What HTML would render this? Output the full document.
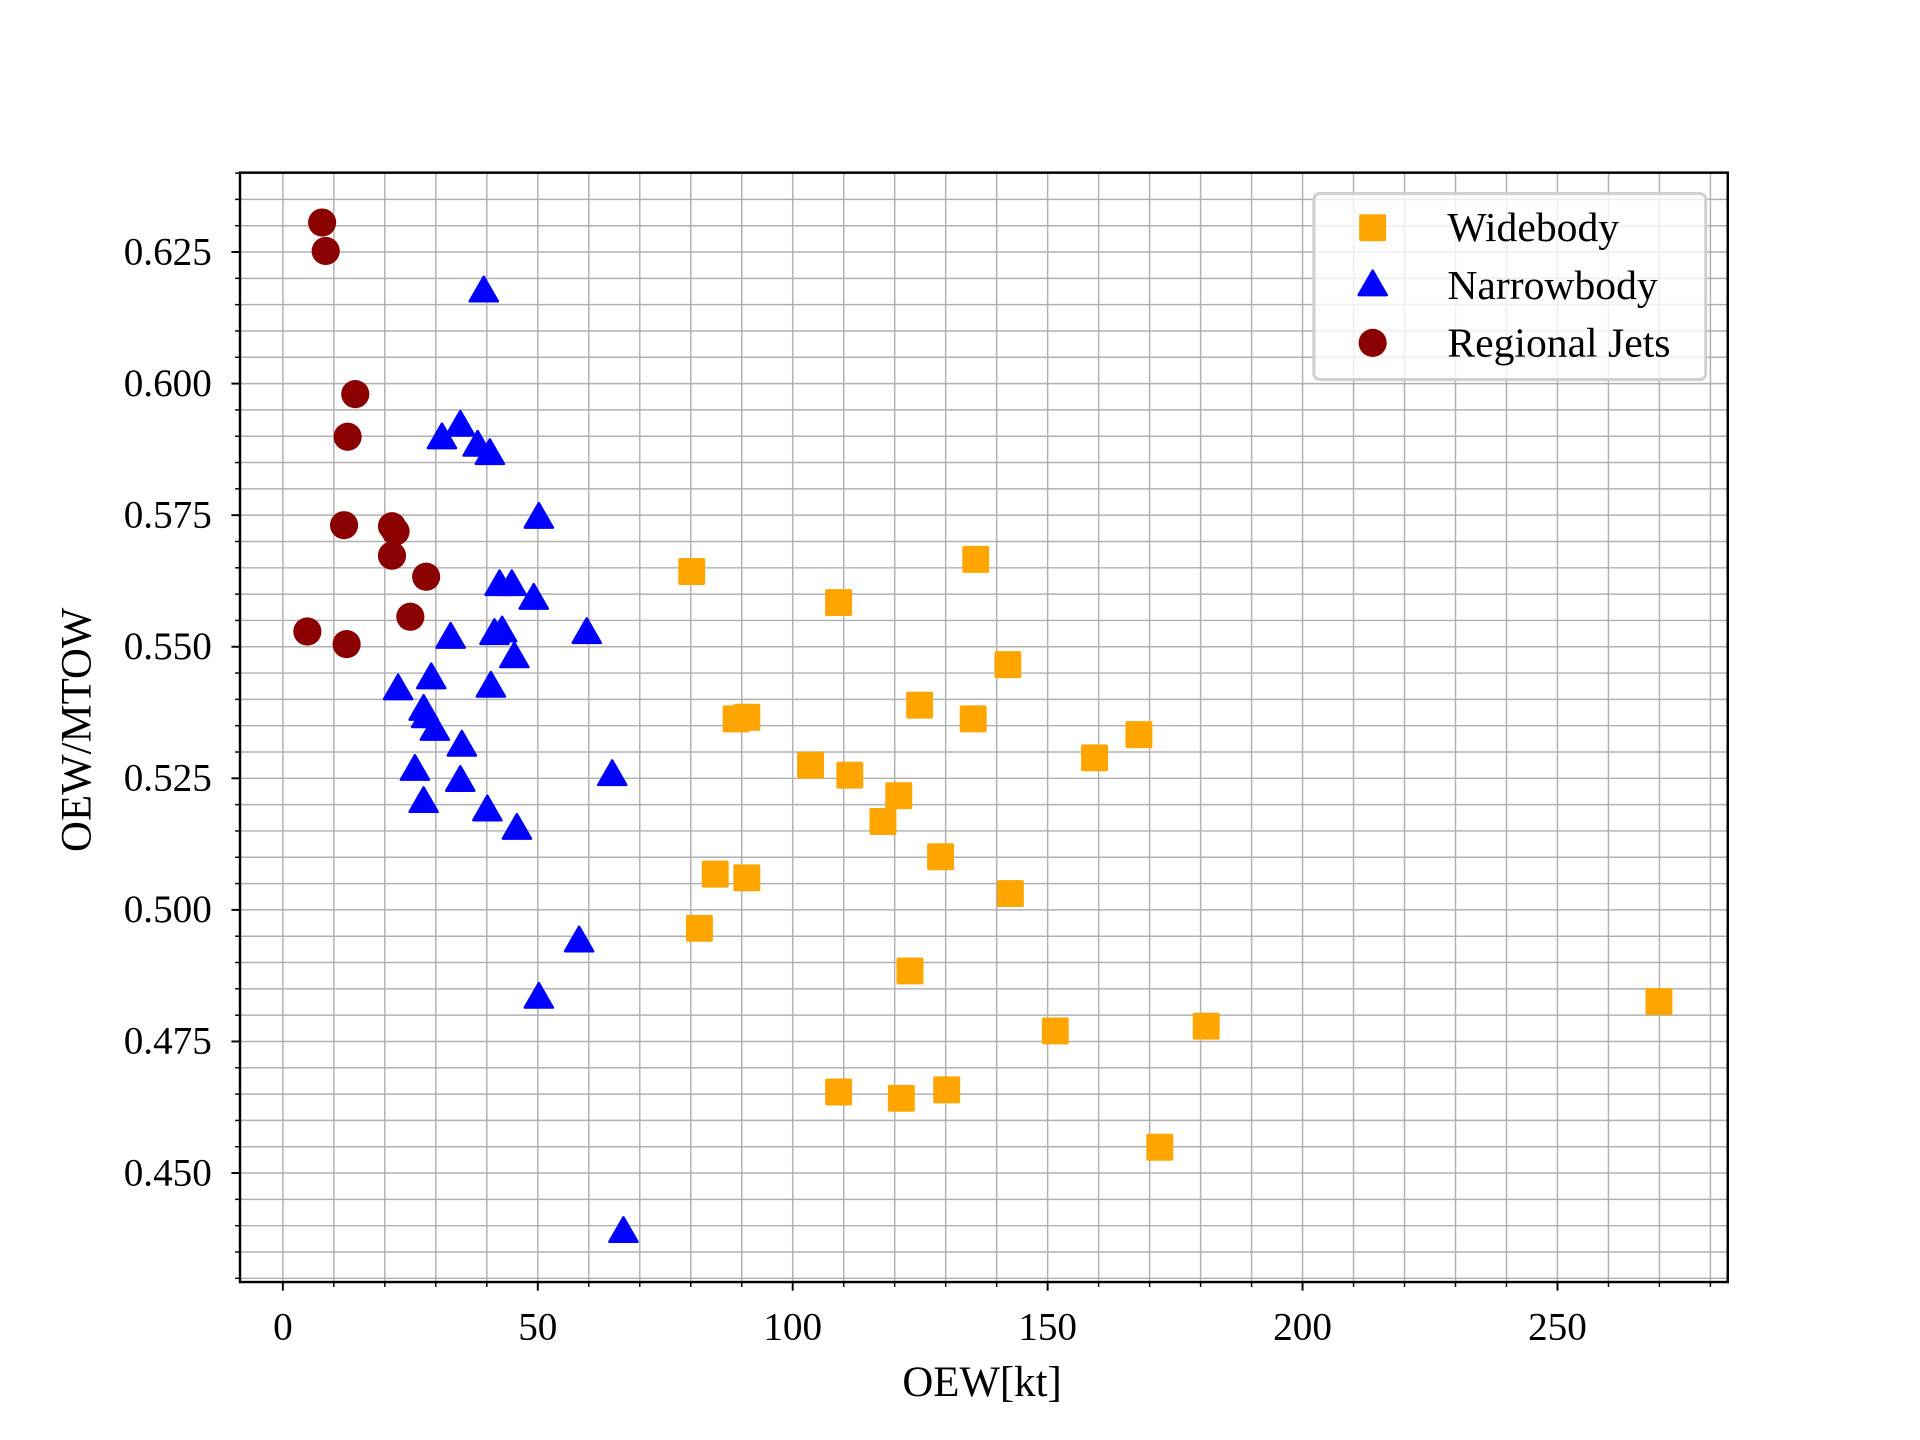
<!DOCTYPE html>
<html><head><meta charset="utf-8"><style>
html,body{margin:0;padding:0;background:#fff}
svg{display:block}
text{font-family:"Liberation Serif",serif;fill:#000}
</style></head><body>
<svg id="chart" width="1920" height="1440" viewBox="0 0 1568 1176" preserveAspectRatio="none" xmlns="http://www.w3.org/2000/svg">
<rect width="1568" height="1176" fill="#fff"/>
<g id="grid"></g>
<g id="ticks"></g>
<g id="marks"></g>
<rect x="196" y="141" width="1215" height="906" fill="none" stroke="#000" stroke-width="2"/>
<text x="802" y="1140" font-size="35" text-anchor="middle">OEW[kt]</text>
<text x="0" y="0" font-size="35" text-anchor="middle" transform="translate(74,596) rotate(-90)">OEW/MTOW</text>
<g>
<rect x="1073" y="158" width="320" height="152" rx="5" fill="rgba(255,255,255,0.8)" stroke="#d0d0d0" stroke-width="2.5"/>
<g id="legend-items"></g>
</g>
</svg>
<script>
const xTicks=[0,50,100,150,200,250];
const yTicks=[0.450,0.475,0.500,0.525,0.550,0.575,0.600,0.625];
const yTickLabels=["0.450","0.475","0.500","0.525","0.550","0.575","0.600","0.625"];
const wideX=[80.2,135.9,109,142.2,124.9,88.9,91,135.4,167.9,159.2,103.5,111.2,120.8,117.7,129,84.8,91,142.7,81.7,123,151.5,181.1,269.9,109,121.3,130.2,172];
const wideY=[0.5643,0.5666,0.5584,0.5466,0.5389,0.5363,0.5366,0.5363,0.5333,0.5289,0.5275,0.5256,0.5217,0.5168,0.5101,0.5068,0.5061,0.5031,0.4965,0.4884,0.4770,0.4779,0.4826,0.4654,0.4642,0.4658,0.4549];
const narrowX=[39.4,31.2,34.8,38.2,40.6,50.2,42.5,44.9,49.2,59.6,32.9,41.5,43,45.4,22.6,29.1,40.8,27.6,28.1,29.8,35.1,25.9,34.8,64.6,27.6,40.1,45.9,58.1,50.2,66.8];
const narrowY=[0.6175,0.5896,0.592,0.5882,0.5866,0.5745,0.5617,0.5617,0.5591,0.5526,0.5517,0.5524,0.5529,0.548,0.5419,0.544,0.5424,0.538,0.5366,0.5342,0.5312,0.5266,0.5245,0.5256,0.5205,0.5189,0.5154,0.494,0.4833,0.4388];
const regX=[7.7,8.4,14.2,12.7,12.0,21.4,22.1,21.4,28.1,25,4.8,12.5];
const regY=[0.6306,0.6252,0.598,0.5899,0.5731,0.5729,0.5719,0.5673,0.5633,0.5557,0.5529,0.5505];

const NS="http://www.w3.org/2000/svg";
const L=196,R=1411,T=141,B=1047;
const xMin=-8.41,xMax=283.4,yMin=0.42929,yMax=0.64008;
function sx(v){return L+(v-xMin)/(xMax-xMin)*(R-L);}
function sy(v){return B-(v-yMin)/(yMax-yMin)*(B-T);}
function mk(tag,attrs,parent){const e=document.createElementNS(NS,tag);for(const k in attrs)e.setAttribute(k,attrs[k]);parent.appendChild(e);return e;}
const grid=document.getElementById('grid'),ticks=document.getElementById('ticks'),marks=document.getElementById('marks');
for(let v=0;v<=280;v+=10){const x=sx(v);const l=mk('line',{x1:x,x2:x,y1:T,y2:B,stroke:'#b0b0b0','stroke-width':1.2},grid);


const t=mk('line',{x1:x,x2:x,y1:B,y2:B+(v%50===0?7:4),stroke:'#000','stroke-width':v%50===0?1.6:1.2},ticks);

}
for(let i=0;i<=42;i++){const v=0.430+i*0.005;if(v>yMax)break;const y=sy(v);const l=mk('line',{x1:L,x2:R,y1:y,y2:y,stroke:'#b0b0b0','stroke-width':1.2},grid);


const major=(i%5===4);
const t=mk('line',{x1:L-(major?7:4),x2:L,y1:y,y2:y,stroke:'#000','stroke-width':major?1.6:1.2},ticks);

}
xTicks.forEach(v=>{const t=mk('text',{x:sx(v),y:1094,'font-size':32,'text-anchor':'middle'},ticks);t.textContent=String(v);

});
yTicks.forEach((v,i)=>{const t=mk('text',{x:173,y:sy(v)+10,'font-size':32,'text-anchor':'end'},ticks);t.textContent=yTickLabels[i];

});
function square(cx,cy,p,name){const e=mk('rect',{x:cx-11,y:cy-11,width:22,height:22,rx:1.5,fill:'#ffa500'},p);

}
function tri(cx,cy,p,name){const e=mk('path',{d:`M${cx},${cy-12} L${cx+11.5},${cy+8} L${cx-11.5},${cy+8} Z`,fill:'#0000ff',stroke:'#0000ff','stroke-width':2,'stroke-linejoin':'round'},p);

}
function circ(cx,cy,p,name){const e=mk('circle',{cx:cx,cy:cy,r:11.5,fill:'#8b0000'},p);

}
wideX.forEach((v,i)=>square(sx(v),sy(wideY[i]),marks,'widebody-point'));
narrowX.forEach((v,i)=>tri(sx(v),sy(narrowY[i]),marks,'narrowbody-point'));
regX.forEach((v,i)=>circ(sx(v),sy(regY[i]),marks,'regional-jet-point'));
const lg=document.getElementById('legend-items');
const labels=["Widebody","Narrowbody","Regional Jets"];
const fns=[square,tri,circ];
const names=['legend-widebody','legend-narrowbody','legend-regional-jets'];
labels.forEach((s,i)=>{const y=186+i*47;fns[i](1121,y,lg,names[i]+'-marker');
const t=mk('text',{x:1182,y:y+11,'font-size':34},lg);t.textContent=s;

});
</script>
</body></html>
